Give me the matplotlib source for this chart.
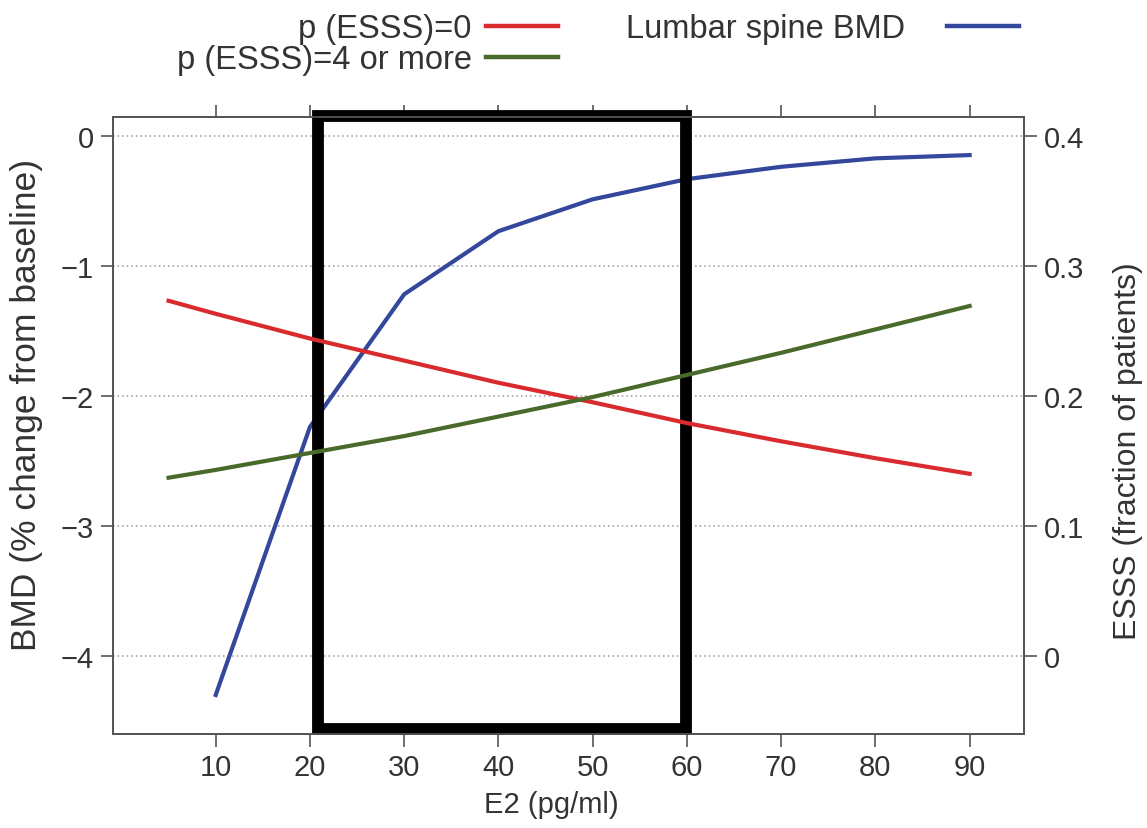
import matplotlib
matplotlib.use('Agg')
import matplotlib.pyplot as plt
from matplotlib.patches import Rectangle
from matplotlib.lines import Line2D

# values
e2_bmd = [10, 20, 30, 40, 50, 60, 70, 80, 90]
bmd = [-4.30, -2.24, -1.22, -0.735, -0.49, -0.335, -0.24, -0.175, -0.15]

e2_esss = [5, 10, 20, 30, 40, 50, 60, 70, 80, 90]
p_esss_0 = [0.273, 0.263, 0.244, 0.227, 0.210, 0.195, 0.179, 0.165, 0.152, 0.140]
p_esss_4 = [0.137, 0.143, 0.156, 0.169, 0.184, 0.199, 0.216, 0.233, 0.251, 0.269]

xticks = [10, 20, 30, 40, 50, 60, 70, 80, 90]
left_ticks = [0, -1, -2, -3, -4]
left_labels = ['0', '\u22121', '\u22122', '\u22123', '\u22124']
right_ticks = [0.4, 0.3, 0.2, 0.1, 0.0]
right_labels = ['0.4', '0.3', '0.2', '0.1', '0']

# highlighted E2 window (black box)
box_x = (20.86, 59.87)
box_y = (-4.56, 0.15)

RED = '#d92b2e'
GREEN = '#4a6a2c'
BLUE = '#33489c'
GRAY = '#555555'
TXT = '#333333'

plt.rcParams['font.family'] = ['Liberation Sans', 'DejaVu Sans']

fig = plt.figure(figsize=(11.47, 8.29), dpi=100)
ax = fig.add_axes([0.0985, 0.1134, 0.7945, 0.7443])
ax2 = ax.twinx()

ax.plot(e2_bmd, bmd, color=BLUE, lw=3)
ax2.plot(e2_esss, p_esss_0, color=RED, lw=3)
ax2.plot(e2_esss, p_esss_4, color=GREEN, lw=3)

ax.set_xlim(-0.9, 95.8)
ax.set_ylim(-4.60, 0.143)
ax2.set_ylim(-0.060, 0.4143)

ax.set_xticks(xticks)
ax.set_xticklabels([str(x) for x in xticks], fontsize=21, color=TXT)
ax.set_yticks(left_ticks)
ax.set_yticklabels(left_labels, fontsize=21, color=TXT)
ax2.set_yticks(right_ticks)
ax2.set_yticklabels(right_labels, fontsize=21, color=TXT)

ax.tick_params(axis='x', top=True, direction='out', length=9, width=1.2, color=GRAY, pad=5)
ax.tick_params(axis='y', direction='out', length=9, width=1.2, color=GRAY, pad=5)
ax2.tick_params(axis='y', direction='out', length=9, width=1.2, color=GRAY, pad=5)

for a in (ax, ax2):
    for s in a.spines.values():
        s.set_color(GRAY)
        s.set_linewidth(1.3)

ax.grid(axis='y', linestyle=(0, (1, 2)), color='#999999', lw=1.1)
ax.set_axisbelow(True)

ax.set_xlabel('E2 (pg/ml)', fontsize=21, color=TXT)
ax.xaxis.set_label_coords(0.481, -0.090)
ax.set_ylabel('BMD (% change from baseline)', fontsize=25.5, color=TXT)
ax.yaxis.set_label_coords(-0.077, 0.535)
ax2.set_ylabel('ESSS (fraction of patients)', fontsize=23, color=TXT, rotation=90)
ax2.yaxis.set_label_coords(1.097, 0.46)

ax.add_patch(Rectangle((box_x[0], box_y[0]), box_x[1] - box_x[0], box_y[1] - box_y[0],
                       fill=False, edgecolor='black', lw=8.5, clip_on=False, zorder=10,
                       joinstyle='miter'))

leg1 = fig.legend([Line2D([], [], color=RED, lw=3.2), Line2D([], [], color=GREEN, lw=3.2)],
                  ['p (ESSS)=0', 'p (ESSS)=4 or more'],
                  loc='upper right', bbox_to_anchor=(558 / 1147, 1 - 14 / 829),
                  frameon=False, markerfirst=False, handlelength=2.2, handletextpad=0.45,
                  labelspacing=0.0, borderpad=0, borderaxespad=0,
                  prop={'size': 23.5}, labelcolor=TXT)
leg2 = fig.legend([Line2D([], [], color=BLUE, lw=3.2)], ['Lumbar spine BMD'],
                  loc='upper right', bbox_to_anchor=(1019 / 1147, 1 - 14 / 829),
                  frameon=False, markerfirst=False, handlelength=2.2, handletextpad=1.3,
                  borderpad=0, borderaxespad=0,
                  prop={'size': 23.5}, labelcolor=TXT)

fig.savefig('out.png', dpi=100)
